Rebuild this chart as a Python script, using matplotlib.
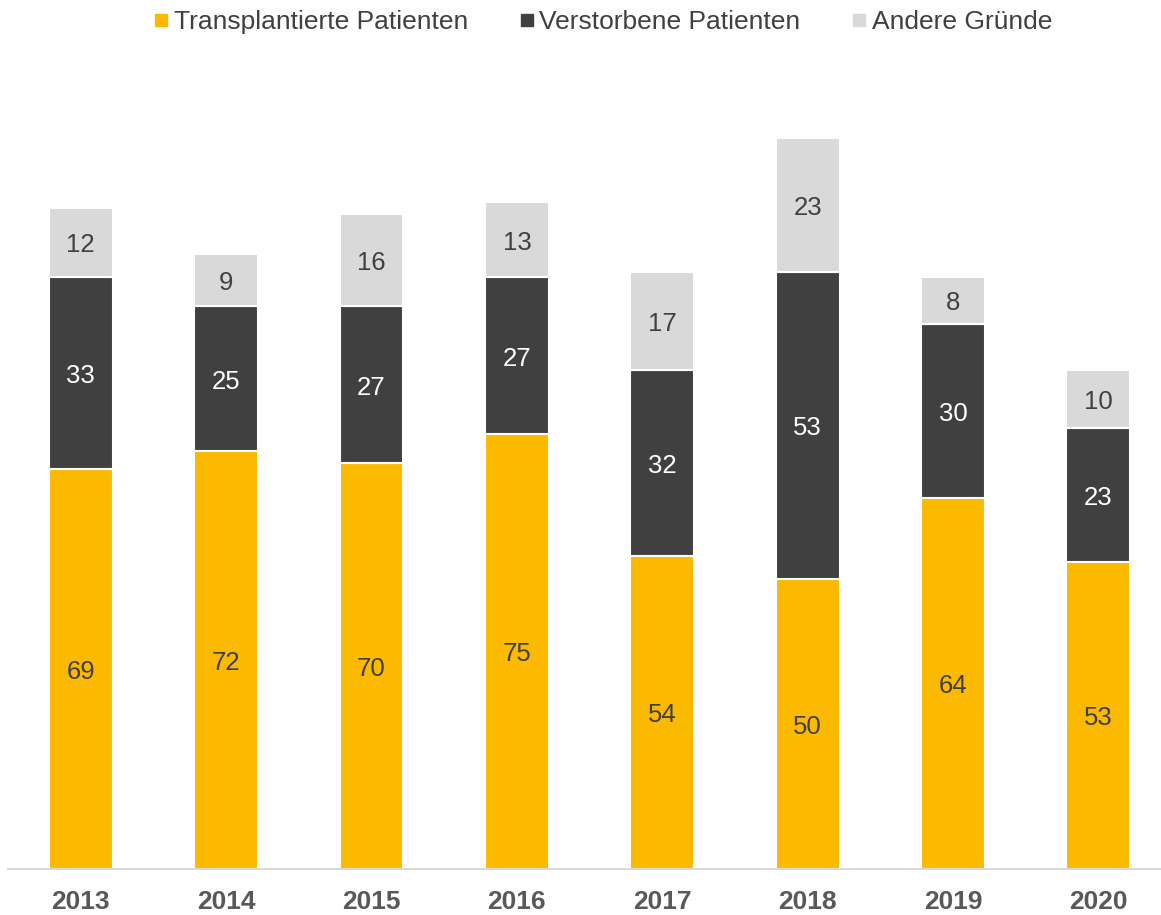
import matplotlib
matplotlib.use("Agg")
import matplotlib.pyplot as plt
from matplotlib.lines import Line2D

years = ["2013", "2014", "2015", "2016", "2017", "2018", "2019", "2020"]
transplantiert = [69, 72, 70, 75, 54, 50, 64, 53]
verstorben = [33, 25, 27, 27, 32, 53, 30, 23]
andere = [12, 9, 16, 13, 17, 23, 8, 10]
series_names = ["Transplantierte Patienten", "Verstorbene Patienten", "Andere Gründe"]
colors = ["#FBBA00", "#404040", "#D9D9D9"]
text_colors = ["#404040", "#FFFFFF", "#404040"]

plt.rcParams['font.family'] = ['Liberation Sans', 'DejaVu Sans']

W, H = 1161, 915
fig = plt.figure(figsize=(W / 100, H / 100), dpi=100)
ax_left = 8 / W
ax_bottom = (H - 869) / H
ax_top = (H - 60) / H
ax = fig.add_axes([ax_left, ax_bottom, 1 - ax_left, ax_top - ax_bottom])

x = list(range(len(years)))
bottoms = [0] * len(years)
for vals, col, tc in zip([transplantiert, verstorben, andere], colors, text_colors):
    ax.bar(x, vals, width=0.44, bottom=bottoms, color=col, edgecolor="white", linewidth=1.5, zorder=2)
    for xi, v, b in zip(x, vals, bottoms):
        ax.annotate(str(v), (xi, b + v / 2), xytext=(0, -2), textcoords="offset points",
                    ha="center", va="center", fontsize=18.5, color=tc, zorder=3)
    bottoms = [b + v for b, v in zip(bottoms, vals)]

ax.set_xlim(-0.5, 7.43)
ax.set_ylim(0, 139.5)
ax.set_xticks(x)
ax.set_xticklabels(years, fontsize=19, fontweight="bold", color="#595959")
ax.tick_params(axis="x", length=0, pad=15)
ax.set_yticks([])
for s in ["top", "right", "left"]:
    ax.spines[s].set_visible(False)
ax.spines["bottom"].set_color("#D9D9D9")
ax.spines["bottom"].set_linewidth(1.5)
ax.spines["bottom"].set_zorder(4)

handles = [Line2D([], [], marker="s", linestyle="none", markersize=8, color=c) for c in colors]
fig.legend(handles, series_names, loc="center", bbox_to_anchor=(0.520, 1 - 22 / H), ncol=3,
           frameon=False, fontsize=19, handletextpad=0.25, columnspacing=2.0,
           labelcolor="#404040", handlelength=0.45)

fig.savefig("out.png", dpi=100)
